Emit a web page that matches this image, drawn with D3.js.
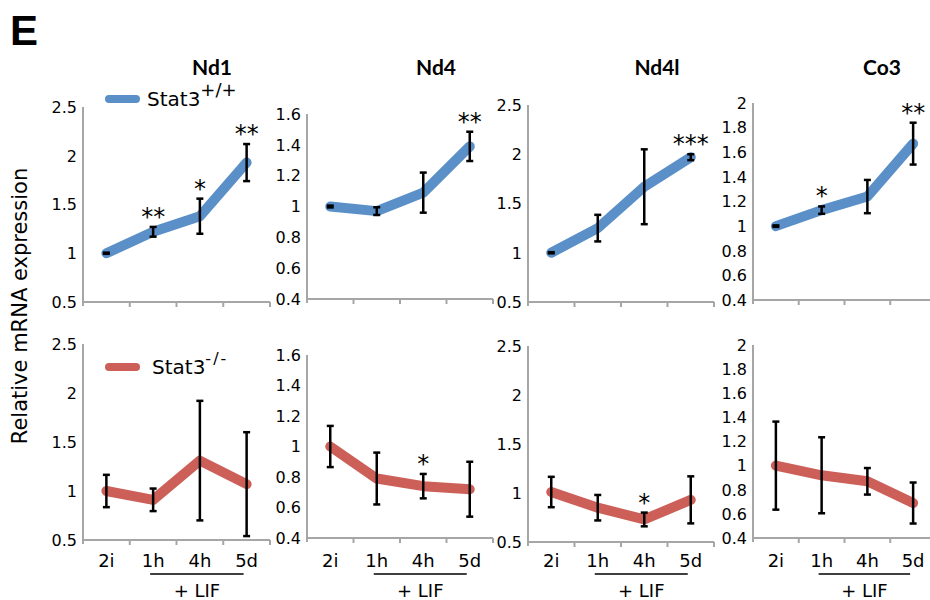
<!DOCTYPE html>
<html>
<head>
<meta charset="utf-8">
<title>Stat3 mitochondrial genes</title>
<script src="https://cdnjs.cloudflare.com/ajax/libs/d3/7.8.5/d3.min.js"></script>
<style>
  body { margin: 0; background: #fff; }
  text { font-family: "DejaVu Sans", sans-serif; fill: #000; }
</style>
</head>
<body>
<svg width="930" height="600" id="chart"></svg>
<script>
// ---- data ----
const timepoints = ["2i", "1h", "4h", "5d"];
const genes = ["Nd1", "Nd4", "Nd4l", "Co3"];
const yDomains = [[0.5, 2.5], [0.4, 1.6], [0.5, 2.5], [0.4, 2]];
const yTickSteps = [0.5, 0.2, 0.5, 0.2];

// Stat3 +/+
const wtMean = [[1.0, 1.22, 1.38, 1.93], [1.0, 0.97, 1.09, 1.39], [1.0, 1.25, 1.67, 1.97], [1.0, 1.13, 1.24, 1.67]];
const wtErr = [[0.006, 0.05, 0.18, 0.19], [0.006, 0.025, 0.13, 0.095], [0.006, 0.135, 0.38, 0.03], [0.006, 0.03, 0.135, 0.17]];
const wtStars = [["", "**", "*", "**"], ["", "", "", "**"], ["", "", "", "***"], ["", "*", "", "**"]];

// Stat3 -/-
const koMean = [[1.0, 0.91, 1.31, 1.07], [1.0, 0.79, 0.74, 0.72], [1.01, 0.85, 0.73, 0.93], [1.0, 0.92, 0.87, 0.69]];
const koErr = [[0.165, 0.115, 0.61, 0.53], [0.135, 0.17, 0.08, 0.18], [0.155, 0.13, 0.07, 0.24], [0.365, 0.315, 0.11, 0.17]];
const koStars = [["", "", "", ""], ["", "", "*", ""], ["", "", "*", ""], ["", "", "", ""]];

// ---- layout ----
let colX = [83, 307, 528, 753];
let colW = [187, 186, 186, 183];
let rowTop = [[107, 114, 105, 103], [344, 355, 346, 345]];
let rowBottom = [[302, 299, 302, 300], [540, 538, 542, 538]];
let colors = ["#5a8fc8", "#cd5f59"];

let svg = d3.select("#chart");

svg.append("text").attr("x", 10).attr("y", 45)
  .style("font-family", "Liberation Sans").style("font-weight", "bold").style("font-size", "42px")
  .text("E");

svg.append("text")
  .attr("transform", "translate(27,306) rotate(-90)")
  .attr("text-anchor", "middle")
  .style("font-size", "21px")
  .text("Relative mRNA expression");

function fmt(v) { return String(+v.toFixed(1)); }

function drawPanel(row, col, means, errs, stars) {
  let [lo, hi] = yDomains[col];
  let y = d3.scaleLinear().domain([lo, hi]).range([rowBottom[row][col], rowTop[row][col]]);
  let x = d3.scaleBand().domain(timepoints).range([colX[col], colX[col] + colW[col]]);
  let cx = d => x(d) + x.bandwidth() / 2;
  let g = svg.append("g");
  let y0 = y(lo);

  // axes
  g.append("line").attr("x1", colX[col]).attr("x2", colX[col]).attr("y1", y(hi)).attr("y2", y0 + 4)
    .attr("stroke", "#a6a6a6").attr("stroke-width", 2);
  g.append("line").attr("x1", colX[col]).attr("x2", colX[col] + colW[col]).attr("y1", y0).attr("y2", y0)
    .attr("stroke", "#a6a6a6").attr("stroke-width", 2);
  timepoints.forEach(t => {
    g.append("line").attr("x1", x(t) + x.bandwidth()).attr("x2", x(t) + x.bandwidth())
      .attr("y1", y0).attr("y2", y0 + 5).attr("stroke", "#a6a6a6").attr("stroke-width", 2);
  });
  let ticks = d3.range(lo, hi + 1e-6, yTickSteps[col]);
  g.selectAll(".yt").data(ticks).enter().append("text")
    .attr("x", colX[col] - 6).attr("y", d => y(d)).attr("dy", "0.36em")
    .attr("text-anchor", "end").style("font-size", "16px")
    .text(fmt);

  // line
  let pts = timepoints.map((t, i) => [cx(t), y(means[i])]);
  g.append("path").attr("d", d3.line()(pts)).attr("fill", "none")
    .attr("stroke", colors[row]).attr("stroke-width", 10)
    .attr("stroke-linecap", "round").attr("stroke-linejoin", "round");

  // error bars
  timepoints.forEach((t, i) => {
    let xx = cx(t), top = y(means[i] + errs[i]), bot = y(means[i] - errs[i]);
    g.append("line").attr("x1", xx).attr("x2", xx).attr("y1", top).attr("y2", bot)
      .attr("stroke", "#000").attr("stroke-width", 2.5);
    [top, bot].forEach(v => g.append("line").attr("x1", xx - 3.5).attr("x2", xx + 3.5)
      .attr("y1", v).attr("y2", v).attr("stroke", "#000").attr("stroke-width", 2.5));
    if (stars[i]) {
      g.append("text").attr("x", xx).attr("y", top - 2).attr("text-anchor", "middle")
        .style("font-size", "24px").text(stars[i]);
    }
  });

  if (row == 0) {
    g.append("text").attr("x", colX[col] + 129).attr("y", 75).attr("text-anchor", "middle")
      .style("font-family", "Lato").style("font-weight", "bold").style("font-size", "21px")
      .text(genes[col]);
  } else {
    timepoints.forEach(t => {
      g.append("text").attr("x", cx(t)).attr("y", 567).attr("text-anchor", "middle")
        .style("font-size", "18px").text(t);
    });
    let ux1 = cx("1h") - 3, ux2 = cx("5d") - 3;
    g.append("line").attr("x1", ux1).attr("x2", ux2).attr("y1", 574).attr("y2", 574)
      .attr("stroke", "#000").attr("stroke-width", 1.5);
    g.append("text").attr("x", (ux1 + ux2) / 2).attr("y", 597).attr("text-anchor", "middle")
      .style("font-size", "18px").text("+ LIF");
  }
}

genes.forEach((gname, c) => {
  drawPanel(0, c, wtMean[c], wtErr[c], wtStars[c]);
  drawPanel(1, c, koMean[c], koErr[c], koStars[c]);
});

// legends
function legend(ly, tx, sup, supSize, spacing, color) {
  svg.append("line").attr("x1", 109).attr("x2", 136).attr("y1", ly).attr("y2", ly)
    .attr("stroke", color).attr("stroke-width", 8).attr("stroke-linecap", "round");
  let t = svg.append("text").attr("x", tx).attr("y", ly + 7).style("font-size", "20px");
  t.append("tspan").text("Stat3");
  t.append("tspan").attr("dy", -10).style("font-size", supSize).style("letter-spacing", spacing).text(sup);
}
legend(99, 147, "+/+", "18px", "0px", colors[0]);
legend(367, 152, "-/-", "16px", "2px", colors[1]);
</script>
</body>
</html>
